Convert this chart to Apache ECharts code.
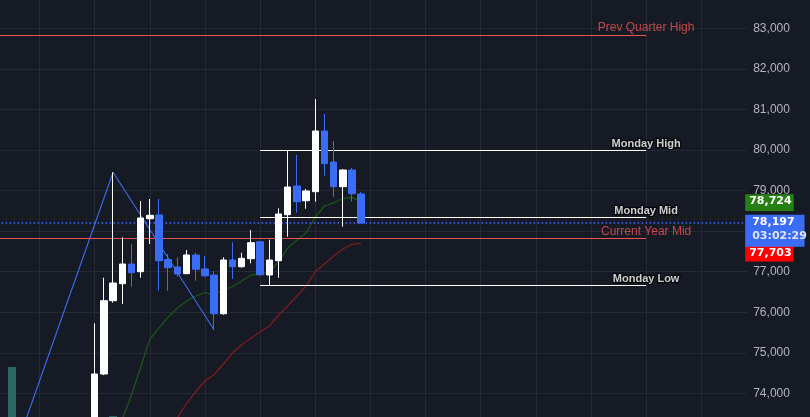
<!DOCTYPE html>
<html><head><meta charset="utf-8">
<script src="https://cdn.jsdelivr.net/npm/echarts@6/dist/echarts.min.js"></script>
<style>html,body{margin:0;padding:0;background:#161a25;}#c{width:810px;height:417px;}</style>
</head><body><div id="c"></div>
<script>
// ---- data (candle index k: 0 = first fully visible candle) ----
const firstK = -11, lastK = 71;
const candleStartK = 0;
const opens  = [73200, 74477, 76284, 76703, 77189, 76999, 78306, 78397, 77300, 77115, 76950, 77411, 77066, 76917, 75963, 77287, 77122, 77320, 77738, 76918, 77270, 78404, 79112, 78749, 78971, 80468, 79704, 79095, 79506, 78915];
const closes = [74477, 76284, 76720, 77189, 76974, 78323, 78390, 77270, 77098, 76942, 77411, 77058, 76900, 75963, 77287, 77122, 77329, 77714, 76925, 77287, 78422, 79087, 78725, 78989, 80468, 79662, 79095, 79506, 78922, 78197];
const lows   = [73000, 74450, 76235, 76203, 76629, 76851, 77682, 76531, 76531, 76876, 76950, 76777, 76861, 75562, 75939, 76819, 77097, 77206, 76900, 76665, 76851, 77862, 78454, 78552, 78725, 79366, 78848, 78108, 78725, 78197];
const highs  = [75727, 76851, 79450, 77847, 77682, 78742, 78791, 78791, 77436, 77354, 77534, 77467, 77386, 77016, 77354, 77724, 77467, 78027, 77738, 77787, 78562, 79975, 79876, 79038, 81257, 80887, 80221, 79531, 79556, 78964];

const maFastStartK = 2;
const maFast = [72730, 73364, 73959, 74637, 75337, 75611, 75882, 76104, 76277, 76400, 76486, 76425, 76548, 76634, 76770, 76917, 76942, 76991, 77238, 77583, 77781, 77953, 78347, 78619, 78693, 78804, 78833, 78724];
const maSlowStartK = 8;
const maSlow = [73100, 73397, 73749, 74045, 74304, 74464, 74723, 74995, 75204, 75357, 75512, 75660, 75931, 76153, 76400, 76646, 76999, 77189, 77386, 77559, 77675, 77703];

const zigK = [-9, 2, 13];
const zigV = [72380, 79450, 75562];

const volK = [-9, 2];
const volV = [1500, 400];

const levelNames  = ['Prev Quarter High', 'Monday High', 'Monday Mid', 'Current Year Mid', 'Monday Low'];
const levelValues = [82835, 80000, 78335, 77822, 76670];
const levelStartK = [-11, 18, 18, -11, 18];
const levelEndK = 60;
const levelIsRed = [true, false, false, true, false];

const currentPrice = 78197;
const countdown = '03:02:29';

// ---- build ----
const categories = [];
for (let k = firstK; k <= lastK; k++) categories.push(String(k));
const J = k => k - firstK;
const fmt = v => Math.round(v).toLocaleString('en-US');

const candleData = categories.map(() => '-');
opens.forEach((o, i) => { candleData[J(candleStartK + i)] = [o, closes[i], lows[i], highs[i]]; });
const lineFrom = (startK, vals) => { const a = categories.map(() => null); vals.forEach((v, i) => { a[J(startK + i)] = v; }); return a; };
const zigData = zigK.map((k, i) => [J(k), zigV[i]]);
const volData = volK.map((k, i) => [J(k), volV[i]]);

const RED = '#ef5350', BLUE = '#3b6cf6', GRID = '#252935';

const chart = echarts.init(document.getElementById('c'), null, {renderer: 'canvas'});
const option = {
  backgroundColor: '#161a25',
  animation: false,
  textStyle: {fontFamily: 'Liberation Sans, Arial, sans-serif'},
  grid: {left: -6.39, right: 62.8, top: -12.26, bottom: -16.9, containLabel: false, outerBoundsMode: 'none'},
  xAxis: {
    type: 'category', data: categories, boundaryGap: false,
    axisLine: {show: false}, axisTick: {show: false}, axisLabel: {show: false},
    splitLine: {show: true, interval: (i) => (i - J(0)) % 6 === 0, lineStyle: {color: GRID, width: 1}}
  },
  yAxis: [{
    type: 'value', position: 'right', min: 73000, max: 84000, interval: 1000,
    axisLine: {show: false}, axisTick: {show: false},
    axisLabel: {color: '#b2b5be', fontSize: 12, margin: 6, formatter: v => fmt(v)},
    splitLine: {show: true, lineStyle: {color: GRID, width: 1}}
  }, {
    type: 'value', min: 0, max: 10000, show: false
  }],
  series: [
    {type: 'bar', yAxisIndex: 1, data: volData, barWidth: 8, itemStyle: {color: '#2c6663'}, z: 1},
    {type: 'line', data: lineFrom(maSlowStartK, maSlow), symbol: 'none', lineStyle: {color: '#7d1a1e', width: 1.3}, z: 2},
    {type: 'line', data: lineFrom(maFastStartK, maFast), symbol: 'none', lineStyle: {color: '#1b5417', width: 1.3}, z: 2},
    {type: 'line', data: zigData, symbol: 'none', lineStyle: {color: '#3d6cf2', width: 1.1}, z: 3},
    {
      type: 'candlestick', data: candleData, barWidth: 7, z: 5,
      itemStyle: {color: '#ffffff', color0: BLUE, borderColor: '#ffffff', borderColor0: BLUE, borderWidth: 1},
      markLine: {
        symbol: ['none', 'none'], silent: true, label: {show: false}, animation: false,
        data: [
          {yAxis: currentPrice, lineStyle: {color: '#4272ff', type: [1.5, 2.5], width: 1.6}}
        ].concat(levelValues.map((v, i) => [
          {coord: [J(levelStartK[i]), v], lineStyle: {color: levelIsRed[i] ? RED : '#ffffff', width: 1.2, type: 'solid'}},
          {coord: [J(levelEndK), v]}
        ]))
      }
    },
    {
      type: 'scatter', symbolSize: 0, z: 10, silent: true,
      data: levelValues.map((v, i) => ({
        name: levelNames[i], value: [J(levelEndK), v],
        label: levelIsRed[i]
          ? {color: RED, fontSize: 12, fontWeight: 'normal'}
          : {color: '#ffffff', fontSize: 11, fontWeight: 'bold', textBorderColor: 'rgba(0,0,0,0.9)', textBorderWidth: 2.5}
      })),
      label: {show: true, position: 'top', distance: 1, formatter: p => p.name}
    }
  ]
};
chart.setOption(option);

// price tags on the scale, positioned through the axis
const py = v => chart.convertToPixel({yAxisIndex: 0}, v);
const tagX = 810 - 62.8 - 2;
const yFast = py(maFast[maFast.length - 1]);
const yCur = py(currentPrice);
const yBlueTop = yCur - 8.3, blueH = 32;
const tagFont = 'bold 11px "DejaVu Sans", sans-serif';
chart.setOption({
  graphic: [
    {type: 'rect', z: 100, shape: {x: tagX, y: yFast - 7.4, width: 48.5, height: 16.7}, style: {fill: '#268014'}},
    {type: 'text', z: 101, x: tagX + 4, y: yFast - 1, style: {text: fmt(maFast[maFast.length - 1]), fill: '#ffffff', font: tagFont, verticalAlign: 'middle'}},
    {type: 'rect', z: 100, shape: {x: tagX, y: yBlueTop + blueH - 2, width: 48.5, height: 16.7}, style: {fill: '#ff0000'}},
    {type: 'text', z: 101, x: tagX + 4, y: yBlueTop + blueH + 6.5, style: {text: fmt(maSlow[maSlow.length - 1]), fill: '#ffffff', font: tagFont, verticalAlign: 'middle'}},
    {type: 'rect', z: 102, shape: {x: tagX, y: yBlueTop, width: 59.3, height: blueH}, style: {fill: BLUE}},
    {type: 'text', z: 103, x: tagX + 7, y: yBlueTop + 7.5, style: {text: fmt(currentPrice), fill: '#ffffff', font: tagFont, verticalAlign: 'middle'}},
    {type: 'text', z: 103, x: tagX + 7, y: yBlueTop + 21.5, style: {text: countdown, fill: 'rgba(255,255,255,0.82)', font: tagFont, verticalAlign: 'middle'}}
  ]
});
</script>
</body></html>
